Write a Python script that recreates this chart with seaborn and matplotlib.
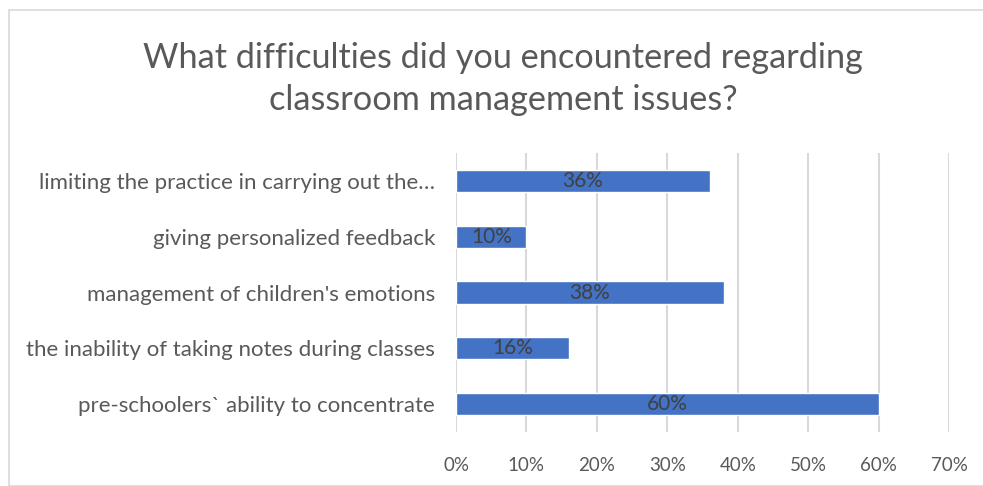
import matplotlib
matplotlib.use("Agg")
import matplotlib.pyplot as plt
import seaborn as sns
import pandas as pd
from matplotlib.patches import Rectangle

categories = [
    "limiting the practice in carrying out the…",
    "giving personalized feedback",
    "management of children's emotions",
    "the inability of taking notes during classes",
    "pre-schoolers` ability to concentrate",
]
values = [0.36, 0.10, 0.38, 0.16, 0.60]
labels = ["36%", "10%", "38%", "16%", "60%"]
xticks = [0, 0.1, 0.2, 0.3, 0.4, 0.5, 0.6, 0.7]
xticklabels = ["0%", "10%", "20%", "30%", "40%", "50%", "60%", "70%"]
title = "What difficulties did you encountered regarding\nclassroom management issues?"

sns.set_theme(style="white")
plt.rcParams["font.family"] = ["Lato", "DejaVu Sans"]

df = pd.DataFrame({"cat": categories, "val": values})

fig = plt.figure(figsize=(9.83, 4.86), dpi=100)
ax = fig.add_axes([456/983, 1-432/486, (949-456)/983, (432-153)/486])

sns.barplot(data=df, y="cat", x="val", orient="h", color="#4472C4",
            saturation=1, width=0.4, ax=ax)

for p, lab in zip(ax.patches, labels):
    ax.text(p.get_x() + p.get_width()/2, p.get_y() + p.get_height()/2, lab,
            ha="center", va="center", fontsize=15, color="#404040")

ax.set_xlim(0, 0.7)
ax.set_xticks(xticks)
ax.set_xticklabels(xticklabels)
ax.grid(axis="x", color="#d9d9d9", linewidth=1.5)
ax.set_axisbelow(True)
for s in ax.spines.values():
    s.set_visible(False)
ax.set_xlabel("")
ax.set_ylabel("")
ax.tick_params(axis="both", length=0, colors="#595959")
ax.tick_params(axis="x", pad=18, labelsize=13.5)
ax.tick_params(axis="y", pad=15, labelsize=16)

fig.text(503/983, 1-79/486, title, ha="center", va="center", fontsize=24.7,
         color="#595959", linespacing=1.4)

fig.patches.append(Rectangle((9/983, 0), 1.1, 1-10/486, transform=fig.transFigure,
                             fill=False, edgecolor="#d9d9d9", linewidth=1.2, figure=fig))

fig.savefig("out.png", dpi=100)
